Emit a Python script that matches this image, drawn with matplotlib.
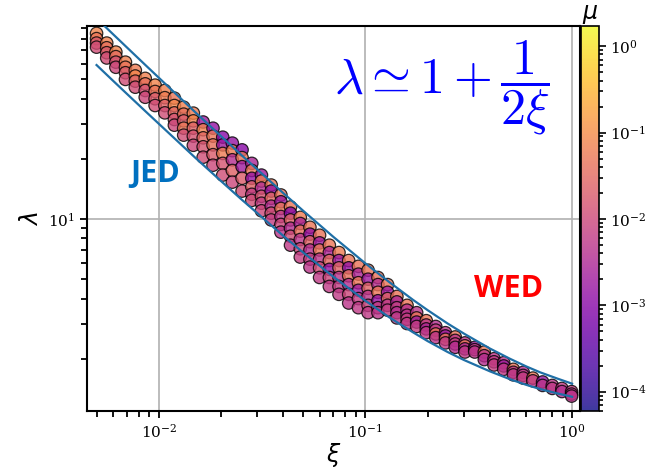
import matplotlib
matplotlib.use('Agg')
import matplotlib.pyplot as plt
from matplotlib.colors import LogNorm

plt.rcParams['font.family'] = 'serif'

# xi columns of the scan
xi = [0.0050, 0.0056, 0.0062, 0.0069, 0.0077, 0.0086, 0.0096, 0.0107, 0.0119, 0.0132,
      0.0147, 0.0164, 0.0183, 0.0204, 0.0227, 0.0253, 0.0282, 0.0314, 0.0350, 0.0390,
      0.0434, 0.0484, 0.0539, 0.0600, 0.0669, 0.0745, 0.0830, 0.0925, 0.103, 0.115,
      0.128, 0.142, 0.159, 0.177, 0.197, 0.219, 0.244, 0.272, 0.303, 0.338,
      0.376, 0.419, 0.467, 0.520, 0.580, 0.646, 0.720, 0.802, 0.893, 0.995]

# lambda values read per column (top to bottom)
lam = [
    [85, 80, 76, 72.5], [76, 72, 68, 64], [68.5, 65, 61, 57.5], [61, 57.5, 54, 50],
    [55.5, 52, 49, 45.7], [50.6, 47.5, 44, 40.7], [46.8, 43.5, 40, 37], [44, 40.5, 37, 34],
    [40.3, 37, 34, 31.5, 29.5], [36.3, 33.5, 31, 28.5, 26.3], [33.9, 31, 28.5, 26, 23.4],
    [30.6, 28, 25.5, 23, 20.4], [28.5, 26, 23.5, 21, 18.6], [25.7, 23.5, 21.3, 19, 16.6],
    [24, 22, 19.8, 17.5, 15.3], [22.2, 20.3, 18.3, 16, 13.8],
    [19, 17.5, 16, 14.5, 13.3, 12.4], [16.6, 15.5, 14.3, 13, 12, 11],
    [14.8, 13.8, 12.7, 11.6, 10.7, 9.9], [13.2, 12.2, 11.3, 10.3, 9.4, 8.6],
    [11.5, 10.7, 9.9, 9, 8.2, 7.4], [10.2, 9.5, 8.7, 7.9, 7.1, 6.45],
    [9.1, 8.4, 7.7, 7, 6.3, 5.75], [8.3, 7.6, 7, 6.3, 5.7, 5.1],
    [7.4, 6.8, 6.2, 5.6, 5.1, 4.6], [6.8, 6.2, 5.7, 5.1, 4.6, 4.2],
    [6.2, 5.7, 5.2, 4.7, 4.2, 3.8], [5.8, 5.3, 4.8, 4.4, 4.0, 3.6],
    [5.55, 5.0, 4.5, 4.1, 3.7, 3.4], [5.1, 4.7, 4.3, 3.9, 3.6, 3.4],
    [4.7, 4.3, 4.0, 3.7, 3.5, 3.3], [4.1, 3.85, 3.6, 3.4, 3.2],
    [3.7, 3.5, 3.3, 3.15, 3.0], [3.4, 3.2, 3.05, 2.9], [3.1, 2.95, 2.82, 2.7],
    [2.9, 2.78, 2.66, 2.55], [2.7, 2.6, 2.5, 2.4], [2.57, 2.47, 2.37, 2.28],
    [2.4, 2.32, 2.24, 2.16], [2.28, 2.22, 2.16], [2.16, 2.07, 1.98], [2.0, 1.93, 1.86],
    [1.91, 1.84, 1.77], [1.77, 1.71, 1.66], [1.71, 1.65, 1.6], [1.6, 1.55],
    [1.53, 1.47], [1.47, 1.42], [1.42, 1.37], [1.37, 1.33, 1.3],
]

# mu (colour) per point
mu = [
    [0.08, 0.05, 0.02, 0.012], [0.07, 0.04, 0.02, 0.012], [0.08, 0.035, 0.015, 0.01], [0.07, 0.045, 0.02, 0.012],
    [0.06, 0.08, 0.025, 0.012], [0.07, 0.04, 0.015, 0.01], [0.08, 0.045, 0.02, 0.012], [0.07, 0.06, 0.025, 0.012],
    [0.05, 0.08, 0.03, 0.015, 0.01], [0.07, 0.04, 0.02, 0.05, 0.012], [0.06, 0.08, 0.025, 0.015, 0.01],
    [0.002, 0.07, 0.03, 0.015, 0.012], [0.0015, 0.05, 0.04, 0.02, 0.01], [0.001, 0.002, 0.06, 0.015, 0.012],
    [0.0015, 0.06, 0.004, 0.025, 0.01], [0.001, 0.05, 0.002, 0.02, 0.012],
    [0.003, 0.05, 0.0015, 0.025, 0.007, 0.012], [0.002, 0.06, 0.004, 0.015, 0.007, 0.01],
    [0.05, 0.0015, 0.03, 0.004, 0.012, 0.007], [0.045, 0.002, 0.05, 0.005, 0.01, 0.005],
    [0.05, 0.001, 0.025, 0.004, 0.012, 0.006], [0.06, 0.003, 0.04, 0.005, 0.01, 0.007],
    [0.05, 0.0015, 0.025, 0.004, 0.007, 0.005], [0.045, 0.002, 0.05, 0.005, 0.012, 0.006],
    [0.05, 0.003, 0.03, 0.0015, 0.009, 0.006], [0.06, 0.002, 0.025, 0.005, 0.007, 0.006],
    [0.05, 0.0015, 0.04, 0.004, 0.01, 0.005], [0.045, 0.003, 0.05, 0.002, 0.007, 0.006],
    [0.05, 0.002, 0.025, 0.005, 0.009, 0.006], [0.045, 0.004, 0.05, 0.0015, 0.007, 0.005],
    [0.05, 0.002, 0.025, 0.005, 0.007], [0.045, 0.003, 0.007, 0.004, 0.006],
    [0.05, 0.004, 0.005, 0.007, 0.006], [0.005, 0.045, 0.002, 0.007], [0.05, 0.005, 0.003, 0.006],
    [0.004, 0.007, 0.045, 0.005], [0.005, 0.002, 0.05, 0.006], [0.045, 0.005, 0.007, 0.004],
    [0.005, 0.05, 0.003, 0.006], [0.002, 0.006, 0.005], [0.05, 0.005, 0.004], [0.005, 0.006, 0.007],
    [0.005, 0.002, 0.006], [0.045, 0.005, 0.006], [0.004, 0.006, 0.007], [0.05, 0.006],
    [0.0015, 0.005], [0.005, 0.006], [0.006, 0.004], [0.007, 0.005, 0.005],
]

# bounding curves, read at a few xi
xi_line = [0.005, 0.006, 0.007, 0.0085, 0.01, 0.0125, 0.015, 0.02, 0.025, 0.03, 0.04, 0.05,
           0.07, 0.1, 0.13, 0.17, 0.2, 0.25, 0.3, 0.4, 0.5, 0.6, 0.7, 0.85, 1.0]
lam_upper = [101, 84.3, 72.4, 59.8, 51, 41, 34.3, 26, 21, 17.7, 13.5, 11,
             8.14, 6, 4.85, 3.94, 3.5, 3.0, 2.67, 2.25, 2.0, 1.83, 1.71, 1.59, 1.5]
lam_lower = [59, 49.3, 42.4, 35.1, 30, 24.2, 20.3, 15.5, 12.6, 10.7, 8.25, 6.8,
             5.14, 3.9, 3.23, 2.71, 2.45, 2.16, 1.97, 1.73, 1.58, 1.48, 1.41, 1.34, 1.29]

xs, ys, cs = [], [], []
for x, ls, ms in zip(xi, lam, mu):
    for l, m in zip(ls, ms):
        xs.append(x)
        ys.append(l)
        cs.append(m)

H = 468
fig = plt.figure(figsize=(6.5, 4.68), dpi=100)
ax = fig.add_axes([0.134, 0.122, 0.758, 0.822])
cax = fig.add_axes([0.894, 0.122, 0.027, 0.822])

ax.set_xscale('log')
ax.set_yscale('log')
ax.grid(True, which='major', color='#b0b0b0', linewidth=1.2)
ax.set_axisbelow(True)

sc = ax.scatter(xs, ys, c=cs, cmap='plasma', norm=LogNorm(vmin=6e-5, vmax=1.7),
                s=80, edgecolors='black', linewidths=0.9, alpha=0.8, zorder=3)
ax.plot(xi_line, lam_upper, color='#1f6fa6', lw=1.6, zorder=4)
ax.plot(xi_line, lam_lower, color='#1f6fa6', lw=1.6, zorder=4)

ax.set_xlim(0.0045, 1.09)
ax.set_ylim(1.096, 92.3)

for s in ax.spines.values():
    s.set_linewidth(1.5)
ax.tick_params(which='both', direction='out', width=1.3, labelsize=11)
ax.tick_params(which='major', length=5)
ax.tick_params(which='minor', length=4)

ax.set_xlabel(r'$\xi$', fontsize=17, labelpad=0)
ax.set_ylabel(r'$\lambda$', fontsize=17, labelpad=4)

ax.text(442, H - 88, r'$\lambda \simeq 1+\dfrac{1}{2\xi}$', transform=None, fontsize=36,
        color='blue', math_fontfamily='cm', ha='center', va='center')
ax.text(155, H - 174, 'JED', transform=None, fontsize=22, color='#0070C0',
        family='Open Sans', weight='bold', ha='center', va='center')
ax.text(509, H - 289, 'WED', transform=None, fontsize=22, color='#FF0000',
        family='Open Sans', weight='bold', ha='center', va='center')

cb = fig.colorbar(sc, cax=cax)
cb.outline.set_linewidth(1.2)
cax.tick_params(which='both', direction='out', width=1.2, labelsize=11)
cax.tick_params(which='major', length=5)
cax.tick_params(which='minor', length=3)
cax.set_title(r'$\mu$', fontsize=17, pad=1)

fig.savefig('out.png', dpi=100)
